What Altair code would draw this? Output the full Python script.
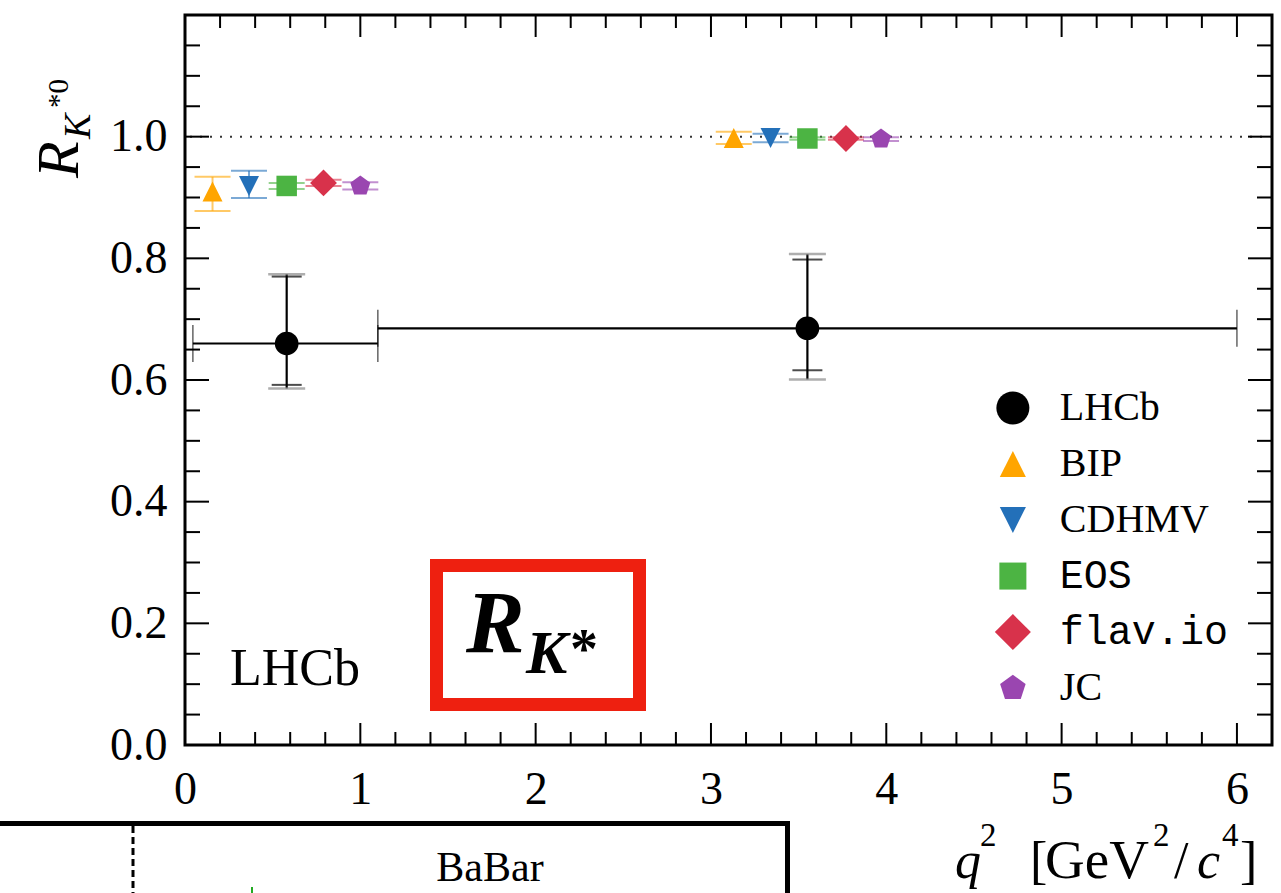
import altair as alt
import pandas as pd
import numpy as np

# ---------------- data ----------------
lhcb_x = [0.58, 3.55]
lhcb_bin_lo = [0.045, 1.1]
lhcb_bin_hi = [1.1, 6.0]
lhcb_val = [0.660, 0.685]
lhcb_stat_lo = [0.592, 0.616]
lhcb_stat_hi = [0.770, 0.798]
lhcb_tot_lo = [0.586, 0.601]
lhcb_tot_hi = [0.774, 0.807]

models = ["BIP", "CDHMV", "EOS", "flav.io", "JC"]
model_x_low = [0.157, 0.365, 0.58, 0.79, 1.00]
model_val_low = [0.910, 0.919, 0.919, 0.924, 0.919]
model_lo_low = [0.878, 0.899, 0.914, 0.919, 0.913]
model_hi_low = [0.934, 0.944, 0.924, 0.929, 0.925]
model_x_cen = [3.13, 3.34, 3.55, 3.77, 3.97]
model_val_cen = [0.998, 0.998, 0.997, 0.997, 0.996]
model_lo_cen = [0.988, 0.991, 0.995, 0.995, 0.993]
model_hi_cen = [1.008, 1.005, 0.999, 0.999, 0.999]

x_tick_labels = [0, 1, 2, 3, 4, 5, 6]
y_tick_labels = [0.0, 0.2, 0.4, 0.6, 0.8, 1.0]
legend_names = ["LHCb"] + models
mono_names = ["EOS", "flav.io"]

# ---------------- styling ----------------
W, H = 1087, 730
OX, OY = 185, 15
SERIF = "Liberation Serif"
MONO = "Liberation Mono"
model_colors = ["#ffa500", "#2370b9", "#4cb443", "#d8324b", "#9a46b0"]
PENT = "M0,-1L0.951,-0.309L0.588,0.809L-0.588,0.809L-0.951,-0.309Z"
model_shapes = ["M0,-1L1,1L-1,1Z", "M0,1L1,-1L-1,-1Z", "square", "M0,-1L1,0L0,1L-1,0Z", PENT]
model_sizes = [400, 400, 420, 720, 440]
legend_sizes = [680, 680, 730, 1300, 720]

xs = alt.Scale(domain=[0, 6.2], nice=False, zero=False)
ys = alt.Scale(domain=[0, 1.2], nice=False, zero=False)

xaxis = alt.Axis(values=x_tick_labels, format="d", ticks=False, tickSize=0, domain=False,
                 grid=False, labelFont=SERIF, labelFontSize=46, labelColor="black",
                 labelPadding=22, title=None, labelFlush=False)
yaxis = alt.Axis(values=y_tick_labels, format=".1f", ticks=False, tickSize=0, domain=False,
                 grid=False, labelFont=SERIF, labelFontSize=46, labelColor="black",
                 labelPadding=18, title=None, labelFlush=False)


def X(f):
    return alt.X(f, type="quantitative", scale=xs, axis=xaxis)


def Y(f):
    return alt.Y(f, type="quantitative", scale=ys, axis=yaxis)


layers = []

# reference line at 1
one = pd.DataFrame({"y": [1.0]})
layers.append(alt.Chart(one).mark_rule(strokeDash=[2, 8], strokeWidth=2, color="#333333")
              .encode(y=Y("y")))

# ---------------- LHCb measurement ----------------
lhcb = pd.DataFrame({"x": lhcb_x, "xlo": lhcb_bin_lo, "xhi": lhcb_bin_hi, "val": lhcb_val,
                     "slo": lhcb_stat_lo, "shi": lhcb_stat_hi,
                     "tlo": lhcb_tot_lo, "thi": lhcb_tot_hi})
layers.append(alt.Chart(lhcb).mark_rule(color="black", strokeWidth=2.2)
              .encode(x=X("xlo"), x2="xhi", y=Y("val")))
ends = pd.DataFrame({"x": lhcb_bin_lo + lhcb_bin_hi, "y": lhcb_val + lhcb_val})
layers.append(alt.Chart(ends).mark_tick(orient="vertical", size=37, thickness=1.3, color="black")
              .encode(x=X("x"), y=Y("y")))
layers.append(alt.Chart(lhcb).mark_rule(color="black", strokeWidth=2.2)
              .encode(x=X("x"), y=Y("tlo"), y2="thi"))
caps_tot = pd.DataFrame({"x": lhcb_x + lhcb_x, "y": lhcb_tot_lo + lhcb_tot_hi})
caps_stat = pd.DataFrame({"x": lhcb_x + lhcb_x, "y": lhcb_stat_lo + lhcb_stat_hi})
layers.append(alt.Chart(caps_tot).mark_tick(orient="horizontal", size=37, thickness=2.5, color="#8c8c8c")
              .encode(x=X("x"), y=Y("y")))
layers.append(alt.Chart(caps_stat).mark_tick(orient="horizontal", size=30, thickness=2, color="black")
              .encode(x=X("x"), y=Y("y")))
layers.append(alt.Chart(lhcb).mark_point(shape="circle", filled=True, size=560, color="black",
                                          opacity=1, strokeWidth=0)
              .encode(x=X("x"), y=Y("val")))

# ---------------- theory predictions ----------------
th = pd.DataFrame({"model": models + models,
                   "x": model_x_low + model_x_cen,
                   "val": model_val_low + model_val_cen,
                   "lo": model_lo_low + model_lo_cen,
                   "hi": model_hi_low + model_hi_cen})
th_caps = pd.concat([th[["model", "x"]].assign(y=th["lo"]),
                     th[["model", "x"]].assign(y=th["hi"])], ignore_index=True)
for m, c in zip(models, model_colors):
    flt = alt.datum.model == m
    layers.append(alt.Chart(th).transform_filter(flt)
                  .mark_rule(color=c, opacity=0.6, strokeWidth=2)
                  .encode(x=X("x"), y=Y("lo"), y2="hi"))
    layers.append(alt.Chart(th_caps).transform_filter(flt)
                  .mark_tick(orient="horizontal", size=36, thickness=2, color=c, opacity=0.6)
                  .encode(x=X("x"), y=Y("y")))
for m, c, shp, sz in zip(models, model_colors, model_shapes, model_sizes):
    layers.append(alt.Chart(th).transform_filter(alt.datum.model == m)
                  .mark_point(shape=shp, size=sz, filled=True, color=c, opacity=1, strokeWidth=0)
                  .encode(x=X("x"), y=Y("val")))

# ---------------- legend (inside plot, data units) ----------------
leg = pd.DataFrame({"name": legend_names, "row": list(range(len(legend_names)))})
leg["ly"] = 0.554 - leg["row"] * 0.0921
leg["sx"] = 4.722
leg["tx"] = 4.99
leg_shapes = ["circle"] + model_shapes
leg_colors = ["black"] + model_colors
leg_sizes = [1090] + legend_sizes
for n, shp, c, sz in zip(legend_names, leg_shapes, leg_colors, leg_sizes):
    layers.append(alt.Chart(leg).transform_filter(alt.datum.name == n)
                  .mark_point(shape=shp, size=sz, filled=True, color=c, opacity=1, strokeWidth=0)
                  .encode(x=X("sx"), y=Y("ly")))
layers.append(alt.Chart(leg).transform_filter(~alt.FieldOneOfPredicate(field="name", oneOf=mono_names))
              .mark_text(font=SERIF, fontSize=40, align="left", baseline="middle", color="black")
              .encode(x=X("tx"), y=Y("ly"), text="name:N"))
layers.append(alt.Chart(leg).transform_filter(alt.FieldOneOfPredicate(field="name", oneOf=mono_names))
              .mark_text(font=MONO, fontSize=40, align="left", baseline="middle", color="black")
              .encode(x=X("tx"), y=Y("ly"), text="name:N"))

# ---------------- inward ticks on all four sides ----------------
xmaj = pd.DataFrame({"v": [float(v) for v in x_tick_labels]})
xmin = pd.DataFrame({"v": [round(v, 2) for v in np.arange(0.2, 6.19, 0.2)
                           if abs(v - round(v)) > 1e-6]})
ymaj = pd.DataFrame({"v": [0.2, 0.4, 0.6, 0.8, 1.0]})
ymin = pd.DataFrame({"v": [round(v, 3) for v in np.arange(0.05, 1.19, 0.05)
                           if abs(v / 0.2 - round(v / 0.2)) > 1e-6]})
for df, L in [(xmaj, 22), (xmin, 13)]:
    layers.append(alt.Chart(df).mark_rule(color="black", strokeWidth=2)
                  .encode(x=X("v"), y=alt.value(H), y2=alt.value(H - L)))
    layers.append(alt.Chart(df).mark_rule(color="black", strokeWidth=2)
                  .encode(x=X("v"), y=alt.value(0), y2=alt.value(L)))
for df, L in [(ymaj, 24), (ymin, 15)]:
    layers.append(alt.Chart(df).mark_rule(color="black", strokeWidth=2)
                  .encode(y=Y("v"), x=alt.value(0), x2=alt.value(L)))
    layers.append(alt.Chart(df).mark_rule(color="black", strokeWidth=2)
                  .encode(y=Y("v"), x=alt.value(W), x2=alt.value(W - L)))

# ---------------- annotations (page pixel layout) ----------------
dummy = pd.DataFrame({"a": [0]})


def txt(s, px, py, size, font=SERIF, style="normal", weight="normal", angle=None,
        align="left", baseline="alphabetic", color="black"):
    kw = dict(text=s, font=font, fontSize=size, fontStyle=style, fontWeight=weight,
              align=align, baseline=baseline, color=color)
    if angle is not None:
        kw["angle"] = angle
    return alt.Chart(dummy).mark_text(**kw).encode(x=alt.value(px - OX), y=alt.value(py - OY))


def box(x1, y1, x2, y2, stroke, sw):
    return alt.Chart(dummy).mark_rect(fill="white", stroke=stroke, strokeWidth=sw).encode(
        x=alt.value(x1 - OX), x2=alt.value(x2 - OX), y=alt.value(y1 - OY), y2=alt.value(y2 - OY))


# LHCb label
layers.append(txt("LHCb", 230, 685, 52))
# R_K* highlighted box
layers.append(box(436.5, 565.5, 639.5, 704.5, "#ee2010", 13))
layers.append(txt("R", 466, 652, 88, style="italic", weight="bold"))
layers.append(txt("K", 526, 673, 62, style="italic", weight="bold"))
layers.append(txt("*", 570, 668, 56, weight="bold"))

# y-axis title  R_{K*0}
layers.append(txt("R", 78, 178, 60, style="italic", angle=270))
layers.append(txt("K", 90, 139, 38, style="italic", angle=270))
layers.append(txt("*0", 68, 108, 29, angle=270))

# x-axis title  q^2 [GeV^2/c^4]
layers.append(txt("q", 955, 878, 52, style="italic"))
layers.append(txt("2", 980, 846, 33))
layers.append(txt("[", 1030, 878, 52))
layers.append(txt("GeV", 1045, 878, 55))
layers.append(txt("2", 1153, 846, 33))
layers.append(txt("/", 1174, 878, 52))
layers.append(txt("c", 1197, 878, 52, style="italic"))
layers.append(txt("4", 1222, 846, 33))
layers.append(txt("]", 1240, 878, 52))

# cropped neighbouring panel (BaBar) at the bottom
layers.append(box(-20, 823.5, 787.5, 960, "black", 5))
layers.append(alt.Chart(dummy).mark_rule(color="black", strokeWidth=3, strokeDash=[7, 4]).encode(
    x=alt.value(133 - OX), y=alt.value(826 - OY), y2=alt.value(900 - OY)))
layers.append(alt.Chart(dummy).mark_rule(color="#22aa22", strokeWidth=2).encode(
    x=alt.value(252 - OX), y=alt.value(887 - OY), y2=alt.value(895 - OY)))
layers.append(txt("BaBar", 490, 881, 42, align="center"))

chart = alt.layer(*layers).properties(
    width=W, height=H,
    padding={"left": OX, "top": OY, "right": 1281 - OX - W, "bottom": 893 - OY - H},
    autosize=alt.AutoSizeParams(type="none"),
    background="white",
).configure_view(stroke="black", strokeWidth=3)

chart.save("out.html", embed_options={"renderer": "svg", "actions": False})
